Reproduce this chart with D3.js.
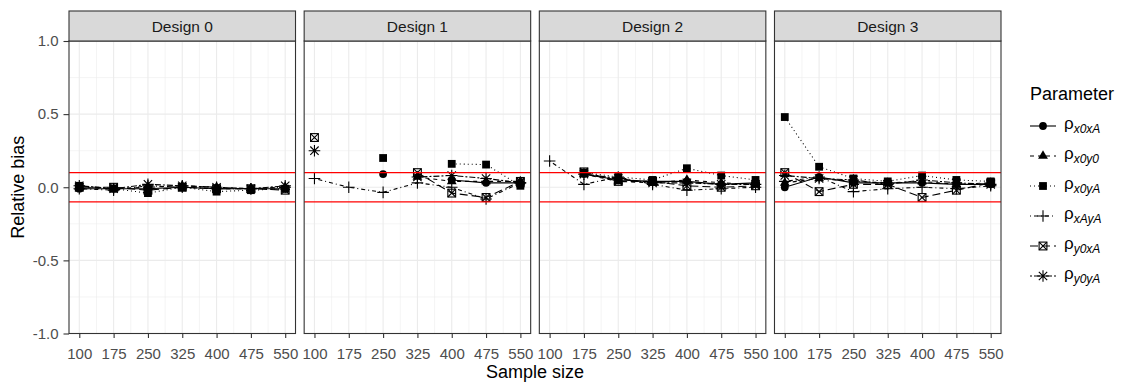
<!DOCTYPE html>
<html>
<head>
<meta charset="utf-8">
<script src="https://cdn.jsdelivr.net/npm/d3@7"></script>
<style>
  body { margin: 0; background: #fff; }
  text { font-family: "Liberation Sans", Arial, sans-serif; }
</style>
</head>
<body>
<svg id="chart" width="1126" height="383"></svg>
<script>
// ---- data ----
var designs = ["Design 0", "Design 1", "Design 2", "Design 3"];
var sampleSizes = [100, 175, 250, 325, 400, 475, 550];
var params = ["x0xA", "x0y0", "x0yA", "xAyA", "y0xA", "y0yA"];
var yTicks = [-1.0, -0.5, 0.0, 0.5, 1.0];

// relative bias per parameter, one array per design (null = not estimated)
var design0 = {
    x0xA: [-0.01, -0.01, -0.01, 0.00, -0.01, -0.01, -0.01],
    x0y0: [0.00, -0.01, 0.00, 0.01, 0.00, -0.01, 0.00],
    x0yA: [0.01, -0.01, -0.04, 0.00, -0.03, -0.02, -0.01],
    xAyA: [-0.01, -0.02, 0.01, 0.00, -0.01, -0.01, 0.00],
    y0xA: [0.00, 0.00, -0.02, 0.00, -0.01, -0.01, -0.02],
    y0yA: [0.01, -0.01, 0.02, 0.01, 0.00, -0.01, 0.01]
};
var design1 = {
    x0xA: [null, null, 0.09, null, 0.05, 0.03, 0.03],
    x0y0: [null, null, null, 0.07, 0.04, 0.04, 0.04],
    x0yA: [null, null, 0.20, null, 0.16, 0.155, 0.01],
    xAyA: [0.06, 0.00, -0.035, 0.03, 0.00, -0.08, 0.03],
    y0xA: [0.34, null, null, 0.10, -0.04, -0.07, 0.04],
    y0yA: [0.25, null, null, 0.07, 0.08, 0.06, 0.03]
};
var design2 = {
    x0xA: [null, 0.09, 0.05, 0.04, 0.04, 0.02, 0.03],
    x0y0: [null, 0.09, 0.04, 0.03, 0.05, 0.03, 0.02],
    x0yA: [null, 0.10, 0.07, 0.05, 0.13, 0.08, 0.05],
    xAyA: [0.18, 0.02, 0.07, 0.02, -0.02, -0.01, 0.00],
    y0xA: [null, 0.105, 0.04, 0.04, 0.01, 0.00, 0.01],
    y0yA: [null, 0.09, 0.06, 0.03, 0.03, 0.02, 0.02]
};
var design3 = {
    x0xA: [0.00, 0.07, 0.03, 0.03, 0.03, 0.02, 0.02],
    x0y0: [0.03, 0.06, 0.04, 0.03, 0.04, 0.02, 0.03],
    x0yA: [0.48, 0.14, 0.06, 0.04, 0.08, 0.05, 0.04],
    xAyA: [0.04, 0.07, -0.03, -0.01, 0.00, -0.01, 0.01],
    y0xA: [0.10, -0.03, 0.02, 0.02, -0.07, -0.02, 0.03],
    y0yA: [0.08, 0.06, 0.05, 0.02, 0.05, 0.03, 0.02]
};
var designData = [design0, design1, design2, design3];
var refLines = [-0.1, 0.1];

// ---- styles ----
var dashes = {
    x0xA: null,
    x0y0: "4,4",
    x0yA: "1,3",
    xAyA: "1,3,4,3",
    y0xA: "8,4",
    y0yA: "2,2,6,2"
};

var margin = {top: 11, left: 69, stripH: 30, bottom: 49.5};
var panelsRight = 1001;
var totalH = 383;

var svg = d3.select("#chart");

var facet = d3.scaleBand()
    .domain(designs)
    .range([margin.left, panelsRight])
    .paddingInner(0.0368);
var pw = facet.bandwidth();
var plotTop = margin.top + margin.stripH;
var plotBottom = totalH - margin.bottom;

var x = d3.scaleLinear().domain([77.5, 572.5]).range([0, pw]);
var y = d3.scaleLinear().domain([-1, 1]).range([plotBottom, plotTop]);

// draw a point symbol into a group
function drawShape(g, p) {
    if (p === "x0xA") {
        g.append("circle").attr("r", 3.9).attr("fill", "#000");
    } else if (p === "x0y0") {
        g.append("path").attr("d", d3.symbol(d3.symbolTriangle, 42)()).attr("fill", "#000");
    } else if (p === "x0yA") {
        var h = 3.9;
        g.append("rect").attr("x", -h).attr("y", -h).attr("width", 2 * h).attr("height", 2 * h).attr("fill", "#000");
    } else if (p === "xAyA") {
        var a = 5.8;
        g.append("path").attr("d", "M" + (-a) + ",0H" + a + "M0," + (-a) + "V" + a)
            .attr("stroke", "#000").attr("stroke-width", 1.1).attr("fill", "none");
    } else if (p === "y0xA") {
        var b = 3.9;
        g.append("rect").attr("x", -b).attr("y", -b).attr("width", 2 * b).attr("height", 2 * b)
            .attr("fill", "none").attr("stroke", "#000").attr("stroke-width", 1.1);
        g.append("path").attr("d", "M" + (-b) + "," + (-b) + "L" + b + "," + b + "M" + b + "," + (-b) + "L" + (-b) + "," + b)
            .attr("stroke", "#000").attr("stroke-width", 1.1);
    } else if (p === "y0yA") {
        var c = 5.8, d = c * 0.72;
        g.append("path").attr("d", "M" + (-c) + ",0H" + c + "M0," + (-c) + "V" + c +
                "M" + (-d) + "," + (-d) + "L" + d + "," + d + "M" + d + "," + (-d) + "L" + (-d) + "," + d)
            .attr("stroke", "#000").attr("stroke-width", 1.1).attr("fill", "none");
    }
}

designs.forEach(function(name, i) {
    var x0 = facet(name);
    var g = svg.append("g").attr("transform", "translate(" + x0 + ",0)");

    // panel background + grid
    g.append("rect").attr("x", 0).attr("y", plotTop).attr("width", pw).attr("height", plotBottom - plotTop).attr("fill", "#fff");
    var minorX = sampleSizes.slice(1).map(function(v) { return v - 37.5; });
    var minorY = [-0.75, -0.25, 0.25, 0.75];
    g.selectAll(".gmx").data(minorX).enter().append("line")
        .attr("x1", d => x(d)).attr("x2", d => x(d))
        .attr("y1", plotTop).attr("y2", plotBottom)
        .attr("stroke", "#EBEBEB").attr("stroke-width", 0.55);
    g.selectAll(".gmy").data(minorY).enter().append("line")
        .attr("x1", 0).attr("x2", pw)
        .attr("y1", d => y(d)).attr("y2", d => y(d))
        .attr("stroke", "#EBEBEB").attr("stroke-width", 0.55);
    g.selectAll(".gx").data(sampleSizes).enter().append("line")
        .attr("x1", d => x(d)).attr("x2", d => x(d))
        .attr("y1", plotTop).attr("y2", plotBottom)
        .attr("stroke", "#EBEBEB").attr("stroke-width", 1.1);
    g.selectAll(".gy").data(yTicks).enter().append("line")
        .attr("x1", 0).attr("x2", pw)
        .attr("y1", d => y(d)).attr("y2", d => y(d))
        .attr("stroke", "#EBEBEB").attr("stroke-width", 1.1);

    // lines and points
    var data = designData[i];
    var line = d3.line()
        .defined(d => d.v !== null)
        .x(d => x(d.n)).y(d => y(d.v));
    params.forEach(function(p) {
        var pts = sampleSizes.map(function(n, k) { return {n: n, v: data[p][k]}; });
        g.append("path").datum(pts)
            .attr("d", line)
            .attr("fill", "none")
            .attr("stroke", "#000")
            .attr("stroke-width", 1.1)
            .attr("stroke-dasharray", dashes[p]);
    });
    params.forEach(function(p) {
        sampleSizes.forEach(function(n, k) {
            var v = data[p][k];
            if (v === null) return;
            var pg = g.append("g").attr("transform", "translate(" + x(n) + "," + y(v) + ")");
            drawShape(pg, p);
        });
    });

    // reference lines
    g.selectAll(".ref").data(refLines).enter().append("line")
        .attr("x1", 0).attr("x2", pw)
        .attr("y1", d => y(d)).attr("y2", d => y(d))
        .attr("stroke", "#FF0000").attr("stroke-width", 1.2);

    // panel border
    g.append("rect").attr("x", 0).attr("y", plotTop).attr("width", pw).attr("height", plotBottom - plotTop)
        .attr("fill", "none").attr("stroke", "#333333").attr("stroke-width", 1.1);

    // strip
    g.append("rect").attr("x", 0).attr("y", margin.top).attr("width", pw).attr("height", margin.stripH)
        .attr("fill", "#D9D9D9").attr("stroke", "#333333").attr("stroke-width", 1.1);
    g.append("text").attr("x", pw / 2).attr("y", margin.top + margin.stripH / 2)
        .attr("dy", "0.36em").attr("text-anchor", "middle")
        .attr("fill", "#1A1A1A").style("font-size", "15.5px").text(name);

    // x axis
    var xa = g.append("g").attr("transform", "translate(0," + plotBottom + ")")
        .call(d3.axisBottom(x).tickValues(sampleSizes).tickSize(4.5).tickPadding(10));
    xa.select(".domain").remove();
    xa.selectAll("line").attr("stroke", "#333333").attr("stroke-width", 1.1);
    xa.selectAll("text").attr("fill", "#4D4D4D").style("font-size", "15px")
        .style("font-family", "Liberation Sans, Arial, sans-serif");
});

// y axis
var ya = svg.append("g").attr("transform", "translate(" + margin.left + ",0)")
    .call(d3.axisLeft(y).tickValues(yTicks).tickFormat(d3.format(".1f")).tickSize(5.5).tickPadding(5));
ya.select(".domain").remove();
ya.selectAll("line").attr("stroke", "#333333").attr("stroke-width", 1.1);
ya.selectAll("text").attr("fill", "#4D4D4D").style("font-size", "15px")
    .style("font-family", "Liberation Sans, Arial, sans-serif")
    .text(d => d3.format(".1f")(d).replace("−", "-"));

// axis titles
svg.append("text")
    .attr("x", (margin.left + panelsRight) / 2).attr("y", 378)
    .attr("text-anchor", "middle").style("font-size", "18px").attr("fill", "#000")
    .text("Sample size");
svg.append("text")
    .attr("transform", "translate(24," + ((plotTop + plotBottom) / 2) + ") rotate(-90)")
    .attr("text-anchor", "middle").style("font-size", "18px").attr("fill", "#000")
    .text("Relative bias");

// legend
var legend = svg.append("g").attr("transform", "translate(1030,0)");
legend.append("text").attr("x", 0).attr("y", 100).style("font-size", "18px").attr("fill", "#000").text("Parameter");
var keyY = d3.scalePoint().domain(params).range([126, 276]);
params.forEach(function(p) {
    var k = legend.append("g").attr("transform", "translate(0," + keyY(p) + ")");
    k.append("line").attr("x1", 0).attr("x2", 26).attr("y1", 0).attr("y2", 0)
        .attr("stroke", "#000").attr("stroke-width", 1.1).attr("stroke-dasharray", dashes[p]);
    var sg = k.append("g").attr("transform", "translate(13,0)");
    drawShape(sg, p);
    var t = k.append("text").attr("x", 34).attr("y", 3).style("font-size", "17px").attr("fill", "#000");
    t.append("tspan").text("ρ");
    t.append("tspan").attr("dy", 4).style("font-size", "12px").style("font-style", "italic").text(p);
});
</script>
</body>
</html>
